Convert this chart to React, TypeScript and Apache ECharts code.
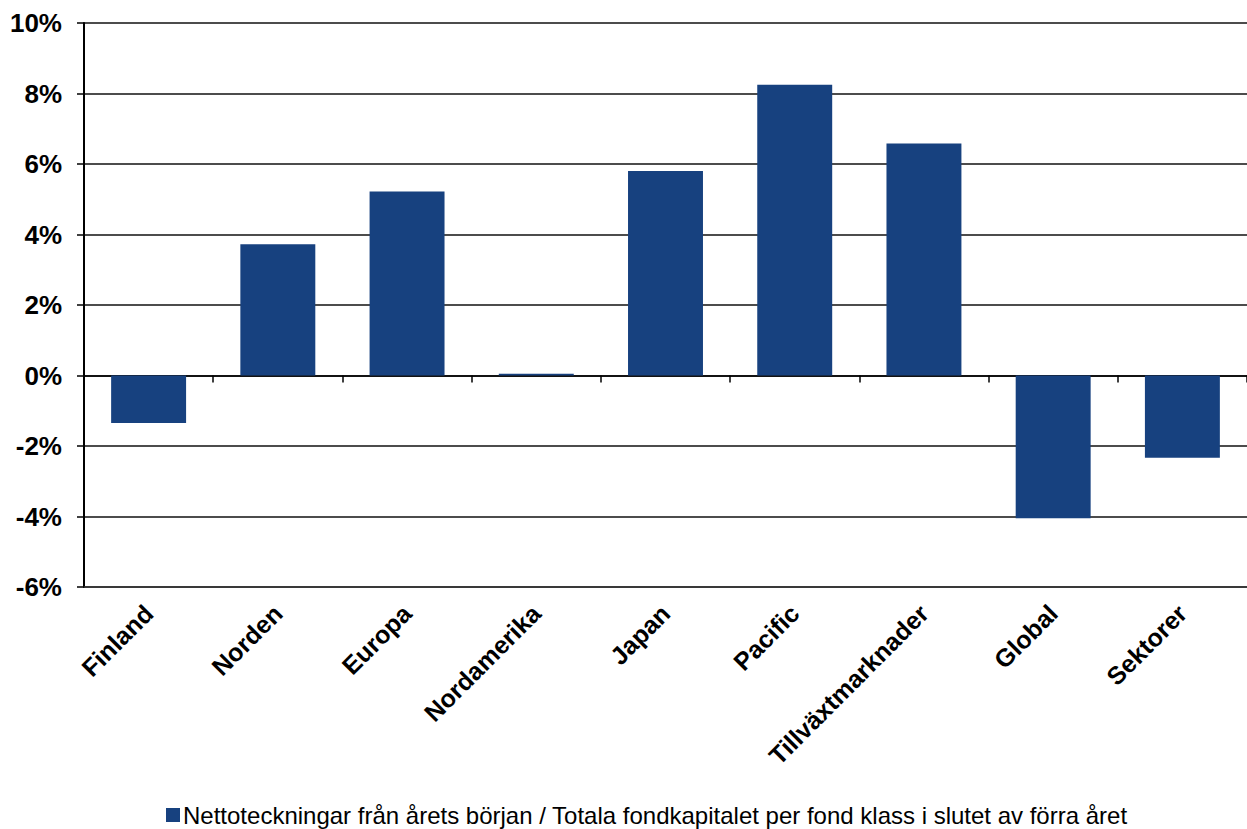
import React, { useEffect, useRef } from "react";
import * as echarts from "echarts";

const categories = ["Finland", "Norden", "Europa", "Nordamerika", "Japan", "Pacific", "Tillväxtmarknader", "Global", "Sektorer"];
const values = [-1.35, 3.72, 5.22, 0.05, 5.8, 8.25, 6.58, -4.05, -2.33];
const seriesName = "Nettoteckningar från årets början / Totala fondkapitalet per fond klass i slutet av förra året";
const yMin = -6;
const yMax = 10;
const yStep = 2;

export default function App() {
  const ref = useRef<HTMLDivElement>(null);
  useEffect(() => {
    if (!ref.current) return;
    const chart = echarts.init(ref.current, undefined, { renderer: "svg" });
    chart.setOption({
      animation: false,
      backgroundColor: "#ffffff",
      grid: { left: 84, right: 0, top: 23, bottom: 242, containLabel: false },
      legend: {
        bottom: -3,
        left: 161,
        icon: "rect",
        itemWidth: 14,
        itemHeight: 14,
        itemGap: 4,
        textStyle: { fontFamily: "'Liberation Sans Narrow', 'Arial Narrow', sans-serif", fontSize: 24, color: "#000", padding: [0, 0, 0, -2] },
        data: [seriesName],
      },
      xAxis: [
        {
          type: "category",
          data: categories,
          position: "bottom",
          axisLine: { show: true, onZero: false, lineStyle: { color: "#333", width: 1.5 } },
          axisTick: { show: false },
          axisLabel: {
            rotate: 45,
            margin: 22,
            interval: 0,
            fontFamily: "Arial, 'Liberation Sans', sans-serif",
            fontWeight: "bold",
            fontSize: 25,
            color: "#000",
          },
        },
        {
          type: "category",
          data: categories,
          position: "bottom",
          axisLine: { show: true, onZero: true, lineStyle: { color: "#000", width: 1.5 } },
          axisTick: { show: true, inside: false, length: 7, lineStyle: { color: "#000", width: 1.5 } },
          axisLabel: { show: false },
        },
      ],
      yAxis: {
        type: "value",
        min: yMin,
        max: yMax,
        interval: yStep,
        axisLine: { show: true, lineStyle: { color: "#000", width: 2 } },
        axisTick: { show: true, length: 7, lineStyle: { color: "#000", width: 1.5 } },
        splitLine: { show: true, lineStyle: { color: "#111", width: 1.5 } },
        axisLabel: {
          formatter: "{value}%",
          margin: 22,
          fontFamily: "Arial, 'Liberation Sans', sans-serif",
          fontWeight: "bold",
          fontSize: 26,
          color: "#000",
        },
      },
      series: [
        {
          name: seriesName,
          type: "bar",
          xAxisIndex: 0,
          data: values,
          barWidth: "58%",
          itemStyle: { color: "#17417f" },
        },
      ],
    });
    return () => chart.dispose();
  }, []);
  return <div ref={ref} style={{ position: "fixed", left: 0, top: 0, width: 1247, height: 829 }} />;
}
